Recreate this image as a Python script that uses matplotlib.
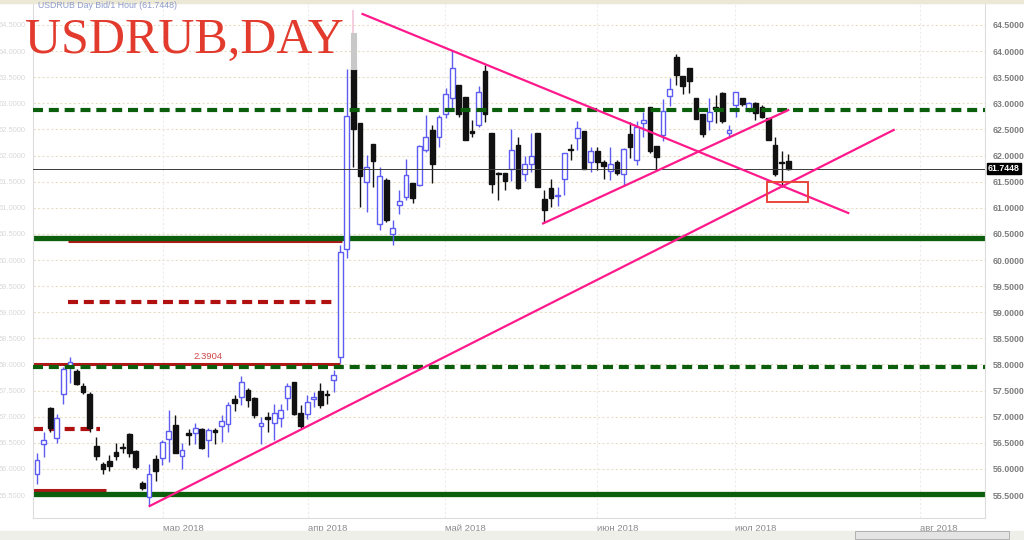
import matplotlib.pyplot as plt
from matplotlib.patches import Rectangle
import matplotlib.transforms as mtransforms

# daily bars, Feb - Jul 2018
opens = [
    55.90, 56.47, 57.16, 56.60, 57.43, 57.98, 57.88, 57.59, 57.43, 56.44,
    56.10, 56.15, 56.32, 56.41, 56.67, 56.35, 55.74, 55.47, 56.19, 56.20,
    56.58, 56.84, 56.25, 56.69, 56.68, 56.77, 56.56, 56.75, 56.82, 56.86,
    57.33, 57.38, 57.51, 57.35, 56.82, 57.00, 56.87, 56.97, 57.35, 57.66,
    57.08, 57.06, 57.33, 57.50, 57.43, 57.70, 58.15, 60.22, 63.65, 62.62,
    61.49, 62.22, 60.69, 61.53, 60.49, 61.05, 61.20, 61.48, 61.44, 62.11,
    62.49, 62.35, 62.79, 63.11, 63.35, 63.13, 62.47, 62.59, 63.62, 62.43,
    61.66, 61.67, 61.74, 62.20, 61.65, 61.83, 62.43, 61.16, 61.37, 61.22,
    61.56, 62.13, 62.33, 62.47, 61.87, 62.09, 61.88, 61.71, 61.87, 61.64,
    62.41, 61.91, 62.62, 62.92, 62.18, 62.39, 63.14, 63.88, 63.52, 63.67,
    63.11, 62.80, 62.67, 62.92, 63.19, 62.43, 62.96, 63.10, 62.89, 63.00,
    62.92, 62.71, 62.20, 61.88, 61.90]
highs = [
    56.30, 56.71, 57.19, 57.05, 57.96, 58.15, 57.92, 57.64, 57.48, 56.62,
    56.14, 56.26, 56.50, 56.50, 56.68, 56.36, 55.77, 56.09, 56.26, 56.55,
    57.13, 57.03, 56.49, 56.77, 56.87, 56.79, 56.79, 56.79, 57.03, 57.29,
    57.41, 57.78, 57.54, 57.37, 57.00, 57.09, 57.25, 57.25, 57.64, 57.67,
    57.22, 57.41, 57.47, 57.64, 57.52, 57.89, 60.29, 63.65, 63.65, 62.62,
    62.01, 62.22, 61.79, 61.57, 60.77, 61.34, 61.93, 61.48, 62.20, 62.78,
    62.59, 62.78, 63.30, 64.02, 63.35, 63.13, 62.68, 63.33, 63.73, 62.43,
    61.69, 61.67, 62.50, 62.36, 61.99, 62.43, 62.43, 61.34, 61.56, 61.40,
    62.04, 62.23, 62.67, 62.47, 62.17, 62.17, 61.91, 62.17, 61.91, 62.14,
    62.65, 62.67, 62.84, 62.92, 62.18, 63.08, 63.48, 63.94, 63.52, 63.67,
    63.11, 62.80, 63.10, 63.16, 63.22, 62.59, 63.22, 63.10, 63.02, 63.02,
    62.96, 62.71, 62.36, 62.09, 62.03]
lows = [
    55.71, 56.22, 56.71, 56.50, 57.25, 57.64, 57.60, 57.44, 56.71, 56.18,
    55.91, 55.96, 56.17, 56.30, 56.22, 55.99, 55.59, 55.29, 55.77, 56.07,
    56.14, 56.30, 55.99, 56.45, 56.48, 56.39, 56.22, 56.48, 56.51, 56.71,
    57.11, 57.22, 57.19, 56.97, 56.47, 56.71, 56.56, 56.81, 57.13, 57.03,
    56.79, 56.95, 57.18, 57.16, 57.25, 57.48, 58.03, 60.04, 61.79, 61.01,
    60.92, 61.39, 60.57, 60.73, 60.29, 60.89, 61.15, 61.09, 61.42, 62.07,
    61.48, 62.17, 62.71, 62.90, 62.74, 62.29, 62.36, 62.55, 62.65, 61.29,
    61.15, 61.34, 61.52, 61.35, 61.52, 61.68, 61.39, 60.73, 61.02, 61.03,
    61.24, 61.91, 62.11, 61.74, 61.69, 61.72, 61.56, 61.53, 61.62, 61.42,
    61.95, 61.82, 62.35, 62.04, 61.72, 62.28, 62.95, 63.35, 63.18, 63.20,
    62.69, 62.36, 62.48, 62.62, 62.62, 62.33, 62.73, 62.94, 62.84, 62.68,
    62.71, 62.30, 61.60, 61.40, 61.73]
closes = [
    56.17, 56.55, 56.79, 56.98, 57.92, 58.05, 57.62, 57.48, 56.79, 56.25,
    55.99, 56.06, 56.25, 56.40, 56.30, 56.04, 55.63, 55.90, 55.96, 56.51,
    56.72, 56.31, 56.36, 56.65, 56.79, 56.41, 56.74, 56.71, 56.91, 57.22,
    57.27, 57.67, 57.32, 57.03, 56.87, 56.95, 57.07, 57.13, 57.59, 57.05,
    56.82, 57.29, 57.38, 57.22, 57.42, 57.80, 60.16, 62.76, 62.50, 61.60,
    61.79, 61.89, 61.60, 60.77, 60.62, 61.13, 61.63, 61.18, 62.18, 62.35,
    61.83, 62.74, 63.17, 63.67, 62.80, 62.29, 62.43, 63.21, 62.79, 61.45,
    61.64, 61.52, 62.10, 61.37, 61.83, 62.00, 61.39, 60.96, 61.18, 61.24,
    62.04, 62.11, 62.52, 61.74, 62.09, 61.87, 61.80, 61.84, 61.66, 62.12,
    62.16, 62.55, 62.68, 62.09, 61.97, 62.86, 63.27, 63.54, 63.33, 63.43,
    62.69, 62.41, 62.84, 62.90, 62.67, 62.49, 63.21, 62.98, 63.00, 62.81,
    62.73, 62.30, 61.65, 61.86, 61.7448]

last_price = 61.7448

# spike shown in grey above bar 49
spike_bar = 48
spike_levels = [63.65, 64.34, 64.79]

month_pos = [19.1, 41.1, 61.9, 85.0, 105.9, 134.0]
month_labels = ['мар 2018', 'апр 2018', 'май 2018', 'июн 2018', 'июл 2018', 'авг 2018']
price_ticks = [55.5, 56.0, 56.5, 57.0, 57.5, 58.0, 58.5, 59.0, 59.5,
               60.0, 60.5, 61.0, 61.5, 62.0, 62.5, 63.0, 63.5, 64.0, 64.5]

# support / resistance levels
green_solid = [55.52, 60.43]
green_dashed = [62.87, 57.96]
red_solid = [(55.60, -0.6, 10.5), (60.36, 4.7, 46.3), (58.00, -0.6, 46.0)]
red_dashed = [(59.20, 4.7, 45.5), (56.76, -0.6, 9.6)]

# trend lines (bar index, price)
trend_lines = [
    [(49.4, 64.71), (123.1, 60.90)],
    [(17.1, 55.29), (130.0, 62.49)],
    [(76.8, 60.70), (114.0, 62.87)],
]
box_x = [110.7, 117.0]
box_y = [61.12, 61.49]

up_col = '#5c5cf2'
dn_col = '#111111'
label_font = 'Liberation Sans'

fig = plt.figure(figsize=(10.24, 5.4), dpi=100)
ax = fig.add_axes([0.0322, 0.0407, 0.9297, 0.9537])

# grid
for p in price_ticks:
    ax.axhline(p, color='#e6dfc6', lw=0.8, ls=(0, (2, 2)), zorder=0)
for m in month_pos:
    ax.axvline(m, color='#ececec', lw=0.8, ls=(0, (2, 2)), zorder=0)

# levels
for lvl, x0, x1 in red_solid:
    ax.plot([x0, x1], [lvl, lvl], color='#b01818', lw=2.2, zorder=1, solid_capstyle='butt')
for lvl in green_solid:
    ax.axhline(lvl, color='#0b5e0b', lw=3.8, zorder=1)
for lvl in green_dashed:
    ax.axhline(lvl, color='#0b5e0b', lw=3.0, dashes=(2.4, 1.4), zorder=4)
for lvl, x0, x1 in red_dashed:
    ax.plot([x0, x1], [lvl, lvl], color='#b01010', lw=3.0, dashes=(2.4, 1.4), zorder=1)

ax.text(23.7, 58.06, '2.3904', color='#d04848', fontsize=6.8, family=label_font,
        ha='left', va='bottom', zorder=5)

# candles
for i in range(len(opens)):
    o, h, l, c = opens[i], highs[i], lows[i], closes[i]
    up = c >= o
    col = up_col if up else dn_col
    ax.vlines(i, l, h, color=col, lw=1.0, zorder=2)
    body = max(abs(c - o), 0.012)
    ax.bar(i, body, bottom=min(o, c), width=0.72,
           color='white' if up else dn_col, edgecolor=col, linewidth=1.0, zorder=3)

# grey spike on the big April bar
ax.bar(spike_bar, spike_levels[1] - spike_levels[0], bottom=spike_levels[0], width=0.72,
       color='#c8c8c8', edgecolor='#c8c8c8', lw=0.8, zorder=3)
ax.vlines(spike_bar, spike_levels[1], spike_levels[2], color='#f4c6da', lw=1.2, zorder=3)

# trend lines
for (x0, y0), (x1, y1) in trend_lines:
    ax.plot([x0, x1], [y0, y1], color='#ff1a8c', lw=1.6, zorder=6)

ax.add_patch(Rectangle((box_x[0], box_y[0]), box_x[1] - box_x[0], box_y[1] - box_y[0],
                       fill=False, edgecolor='#e8463a', lw=1.4, zorder=7))

# current price
ax.axhline(last_price, color='#3a3a3a', lw=0.7, zorder=5)
trans = mtransforms.blended_transform_factory(ax.transAxes, ax.transData)
ax.text(1.003, last_price, '61.7448', transform=trans, ha='left', va='center',
        color='white', fontsize=6.3, fontweight='bold', family=label_font, clip_on=False,
        bbox=dict(boxstyle='square,pad=0.12', fc='black', ec='black'))

ax.set_xlim(-0.61, 143.85)
ax.set_ylim(55.06, 64.92)

ax.set_yticks(price_ticks)
ax.set_yticklabels(['%.4f' % p for p in price_ticks])
ax.tick_params(axis='y', left=False, right=False, labelleft=True, labelright=True, pad=2)
for t in ax.yaxis.get_major_ticks():
    t.label1.set_color('#d8d8d8')
    t.label1.set_fontsize(5.4)
    t.label1.set_family(label_font)
    t.label2.set_color('#7c7c7c')
    t.label2.set_fontsize(6.3)
    t.label2.set_family(label_font)
    t.label2.set_fontweight('bold')

ax.set_xticks(month_pos)
ax.set_xticklabels(month_labels, ha='left', family=label_font)
ax.tick_params(axis='x', length=0, labelsize=6.8, labelcolor='#8a8a8a', pad=4)

for s in ax.spines.values():
    s.set_color('#dcdcdc')
    s.set_linewidth(0.8)

# title and header
fig.text(0.0244, 0.902, 'USDRUB,DAY', family='Liberation Serif', fontsize=36,
         color='#e23b2e', va='baseline', ha='left', zorder=10)
fig.text(0.037, 0.989, 'USDRUB Day Bid/1 Hour (61.7448)', fontsize=6.3, family=label_font,
         color='#8e9ccc', va='center', ha='left')

# frame bits
fig.patches.append(Rectangle((0, 0.994), 1, 0.006, transform=fig.transFigure,
                             color='#ece8d6', zorder=0))
fig.patches.append(Rectangle((0.0, 0.0), 1, 0.017, transform=fig.transFigure,
                             color='#efefe9', zorder=0))
fig.patches.append(Rectangle((0.835, 0.002), 0.15, 0.014, transform=fig.transFigure,
                             facecolor='#e4e4e4', edgecolor='#a8a8a8', lw=0.6, zorder=1))

fig.savefig('out.png', dpi=100)
